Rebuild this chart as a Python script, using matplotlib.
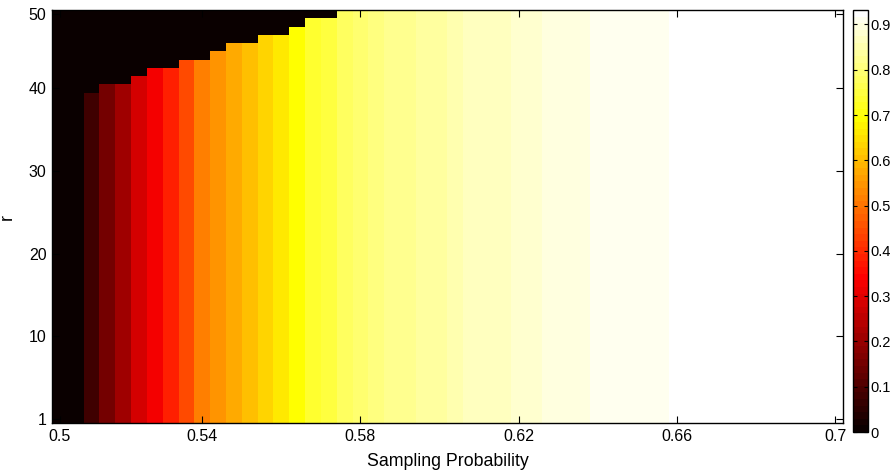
import numpy as np
import matplotlib
matplotlib.use("Agg")
import matplotlib.pyplot as plt
from matplotlib.colors import ListedColormap, Normalize
from matplotlib.cm import ScalarMappable

plt.rcParams['font.family'] = ['Liberation Sans', 'DejaVu Sans']

# ---- data ----
# value of each column (sampling probability index 1..50)
col_values = [0.0, 0.0, 0.080, 0.153, 0.211, 0.284, 0.328, 0.386, 0.444, 0.517,
              0.546, 0.575, 0.604, 0.633, 0.663, 0.692, 0.735, 0.750, 0.779, 0.794,
              0.808, 0.823, 0.823, 0.837, 0.837, 0.852, 0.866, 0.866, 0.866, 0.881,
              0.881, 0.896, 0.896, 0.896, 0.910, 0.910, 0.910, 0.910, 0.910, 0.925,
              0.925, 0.925, 0.925, 0.925, 0.925, 0.925, 0.925, 0.925, 0.925, 0.925]
# number of r rows (from the bottom) that carry the column value; rest are 0
col_heights = [50, 50, 40, 41, 41, 42, 43, 43, 44, 44,
               45, 46, 46, 47, 47, 48, 49, 49, 50, 50,
               50, 50, 50, 50, 50, 50, 50, 50, 50, 50,
               50, 50, 50, 50, 50, 50, 50, 50, 50, 50,
               50, 50, 50, 50, 50, 50, 50, 50, 50, 50]
n_rows = 50
x_tick_pos = [1, 10, 20, 30, 40, 50]
x_tick_labels = ['0.5', '0.54', '0.58', '0.62', '0.66', '0.7']
y_tick_pos = [1, 11, 21, 31, 41, 50]
y_tick_labels = ['1', '10', '20', '30', '40', '50']
cbar_ticks = [0, 0.1, 0.2, 0.3, 0.4, 0.5, 0.6, 0.7, 0.8, 0.9]
cbar_labels = ['0', '0.1', '0.2', '0.3', '0.4', '0.5', '0.6', '0.7', '0.8', '0.9']
vmin, vmax = 0.0, 0.932

# ---- MATLAB hot(64) colormap ----
n = 64
n1, n2 = 24, 24
n3 = n - n1 - n2
r = np.concatenate([np.arange(1, n1 + 1) / n1, np.ones(n - n1)])
g = np.concatenate([np.zeros(n1), np.arange(1, n2 + 1) / n2, np.ones(n3)])
b = np.concatenate([np.zeros(n1 + n2), np.arange(1, n3 + 1) / n3])
cmap = ListedColormap(np.column_stack([r, g, b]))
norm = Normalize(vmin=vmin, vmax=vmax)

Z = np.zeros((n_rows, len(col_values)))
for j, (v, h) in enumerate(zip(col_values, col_heights)):
    Z[:h, j] = v

W, H = 891, 470
fig = plt.figure(figsize=(W / 100, H / 100), dpi=100)
ax = fig.add_axes([52 / W, 1 - 423 / H, (843 - 52) / W, (423 - 10) / H])
ax.imshow(Z, cmap=cmap, norm=norm, origin='lower', aspect='auto',
          interpolation='nearest',
          extent=(0.5, len(col_values) + 0.5, 0.5, n_rows + 0.5))
ax.set_xlim(0.5, len(col_values) + 0.5)
ax.set_ylim(0.5, n_rows + 0.5)
ax.set_xticks(x_tick_pos)
ax.set_xticklabels(x_tick_labels)
ax.set_yticks(y_tick_pos)
ax.set_yticklabels(y_tick_labels)
ax.tick_params(direction='in', top=True, right=True, length=5, width=0.8,
               labelsize=11.5, pad=4)
for s in ax.spines.values():
    s.set_linewidth(1.0)
ax.set_xlabel('Sampling Probability', fontsize=12.8, labelpad=7)
ax.set_ylabel('r', fontsize=12.8, labelpad=9)

cax = fig.add_axes([853 / W, 1 - 432 / H, (868 - 853) / W, (432 - 10) / H])
sm = ScalarMappable(norm=norm, cmap=cmap)
cb = fig.colorbar(sm, cax=cax, ticks=cbar_ticks)
cb.ax.set_yticklabels(cbar_labels)
cax.tick_params(direction='in', left=True, right=True, labelleft=False,
                labelright=True, length=3, width=0.8, labelsize=10.5, pad=1.5)
cb.outline.set_linewidth(1.0)

fig.savefig('out.png', dpi=100)
